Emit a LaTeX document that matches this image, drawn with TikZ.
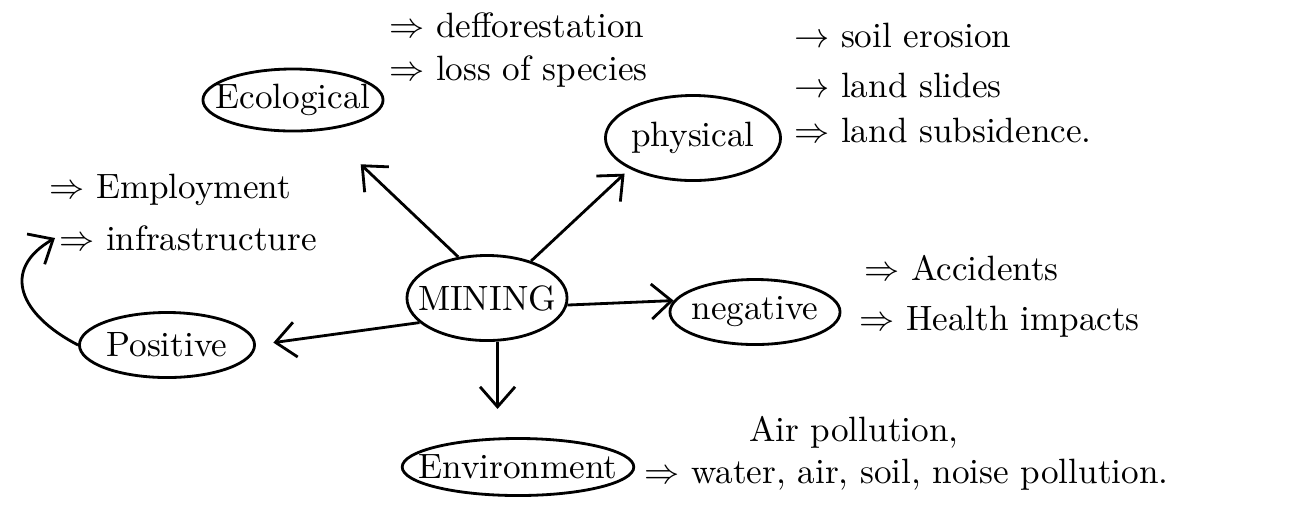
\documentclass[tikz,border=0pt]{standalone}
\usetikzlibrary{shapes.geometric,arrows.meta,positioning}
\tikzset{
  bubble/.style={ellipse,draw,thick,inner xsep=-5pt,inner ysep=0pt},
  item/.style={anchor=west,inner sep=1pt},
  flow/.style={-{Straight Barb[length=2mm,width=3.5mm]},thick},
}
\begin{document}
\begin{tikzpicture}[x=0.01cm,y=-0.01cm]
  \useasboundingbox (0,0) rectangle (1302,517);
  % centre and branches
  \node[bubble,minimum width=1.6cm,minimum height=0.85cm] (mine) at (487,298) {MINING};
  \node[bubble,minimum width=1.8cm,minimum height=0.62cm] (eco) at (293,100) {Ecological};
  \node[bubble,minimum width=1.75cm,minimum height=0.85cm] (phys) at (693,138) {physical};
  \node[bubble,minimum width=1.7cm,minimum height=0.65cm] (neg) at (755,312) {negative};
  \node[bubble,minimum width=1.75cm,minimum height=0.65cm] (pos) at (167,345) {Positive};
  \node[bubble,minimum width=2.15cm,minimum height=0.57cm] (env) at (518,467) {Environment};
  % items
  \node[item] (defo) at (385,25) {$\Rightarrow$ defforestation};
  \node[item] (loss) at (385,72) {$\Rightarrow$ loss of species};
  \node[item] (soil) at (790,35) {$\rightarrow$ soil erosion};
  \node[item] (slide) at (790,85) {$\rightarrow$ land slides};
  \node[item] (subs) at (790,130) {$\Rightarrow$ land subsidence.};
  \node[item] (emp) at (45,190) {$\Rightarrow$ Employment};
  \node[item] (infra) at (55,238) {$\Rightarrow$ infrastructure};
  \node[item] (acc) at (860,268) {$\Rightarrow$ Accidents};
  \node[item] (health) at (855,322) {$\Rightarrow$ Health impacts};
  \node[item] (air) at (745,432) {Air pollution,};
  \node[item] (water) at (640,475) {$\Rightarrow$ water, air, soil, noise pollution.};
  \coordinate (envtop) at ([xshift=3pt]mine.south |- env.north);

  \draw[flow,shorten >=14pt] (mine.125) -- (eco);
  \draw[flow,shorten >=2pt] (mine.40) -- (phys.206);
  \draw[flow] (mine.-5) -- (neg.172);
  \draw[flow,shorten >=5pt] (mine.200) -- (pos.east);
  \draw[flow,shorten >=8pt] ([xshift=3pt]mine.south) -- (envtop);
  \draw[flow] (pos.west) .. controls (20,315) and (0,270) .. (infra.west);
\end{tikzpicture}
\end{document}
